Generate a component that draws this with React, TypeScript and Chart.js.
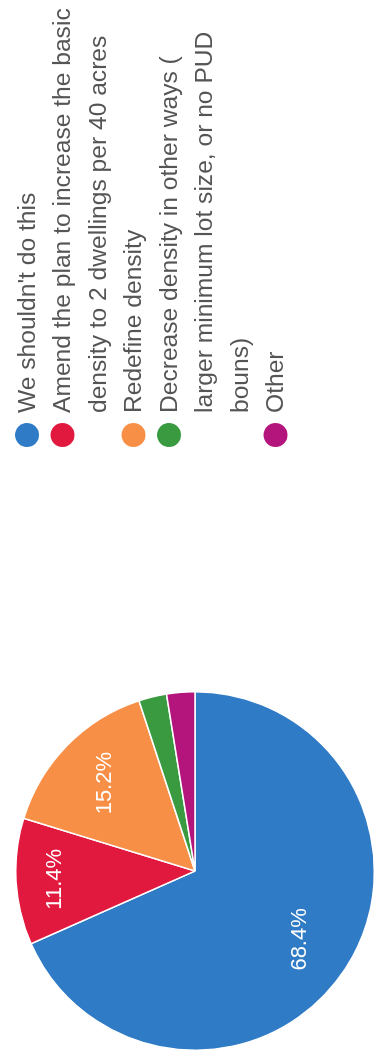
import React, { useEffect, useRef } from "react";
import { Chart, registerables } from "chart.js";

Chart.register(...registerables);

// ---- data ----
const categories: string[][] = [
  ["We shouldn't do this"],
  ["Amend the plan to increase the basic", "density to 2 dwellings per 40 acres"],
  ["Redefine density"],
  ["Decrease density in other ways (", "larger minimum lot size, or no PUD", "bouns)"],
  ["Other"],
];
const responses: number[] = [54, 9, 12, 2, 2];
const sliceColors: string[] = ["#2f7bc5", "#e2193f", "#f88f47", "#3a9a40", "#b3157d"];

// ---- layout (chart drawn in its natural landscape orientation, then turned) ----
const W = 1059;
const H = 377;
const FONT = '"Liberation Sans", Arial, Helvetica, sans-serif';

const pieLabels = {
  id: "pieLabels",
  afterDatasetsDraw(chart: any) {
    const ctx = chart.ctx;
    const meta = chart.getDatasetMeta(0);
    const data = chart.data.datasets[0].data as number[];
    const total = data.reduce((a, b) => a + b, 0);
    ctx.save();
    ctx.font = `22px ${FONT}`;
    ctx.fillStyle = "#ffffff";
    ctx.textAlign = "center";
    ctx.textBaseline = "middle";
    meta.data.forEach((arc: any, i: number) => {
      const pct = (data[i] / total) * 100;
      if (pct < 5) return;
      const p = arc.getProps(["x", "y", "startAngle", "endAngle", "outerRadius"], true);
      const span = p.endAngle - p.startAngle;
      const mid = (p.startAngle + p.endAngle) / 2;
      const f = span < 0.8 ? 0.78 : 0.7;
      ctx.fillText(
        pct.toFixed(1) + "%",
        p.x + Math.cos(mid) * p.outerRadius * f,
        p.y + Math.sin(mid) * p.outerRadius * f
      );
    });
    ctx.restore();
  },
};

const wrappedLegend = {
  id: "wrappedLegend",
  afterDraw(chart: any) {
    const ctx = chart.ctx;
    const labels = chart.data.labels as string[][];
    const colors = chart.data.datasets[0].backgroundColor as string[];
    const dotX = 624;
    const textX = 646;
    const top = 27;
    const lh = 35.5;
    const r = 12;
    ctx.save();
    ctx.font = `24.6px ${FONT}`;
    ctx.textAlign = "left";
    ctx.textBaseline = "middle";
    let line = 0;
    labels.forEach((lines, i) => {
      const y0 = top + line * lh;
      ctx.beginPath();
      ctx.arc(dotX, y0, r, 0, Math.PI * 2);
      ctx.fillStyle = colors[i];
      ctx.fill();
      ctx.fillStyle = "#555555";
      lines.forEach((t, k) => {
        ctx.fillText(t, textX, top + (line + k) * lh + 1);
      });
      line += lines.length;
    });
    ctx.restore();
  },
};

export default function App() {
  const ref = useRef<HTMLCanvasElement | null>(null);

  useEffect(() => {
    document.body.style.margin = "0";
    const canvas = ref.current;
    if (!canvas) return;
    const chart = new Chart(canvas, {
      type: "pie",
      data: {
        labels: categories,
        datasets: [
          {
            data: responses,
            backgroundColor: sliceColors,
            borderColor: "#ffffff",
            borderWidth: 1.5,
          },
        ],
      },
      options: {
        responsive: false,
        animation: false,
        rotation: 90,
        layout: { padding: { left: 8, right: 691, top: 15, bottom: 2 } },
        plugins: {
          legend: { display: false },
          tooltip: { enabled: false },
        },
      },
      plugins: [pieLabels, wrappedLegend],
    });
    return () => chart.destroy();
  }, []);

  return (
    <div
      style={{
        position: "relative",
        width: H,
        height: W,
        overflow: "hidden",
        background: "#ffffff",
      }}
    >
      <div
        style={{
          position: "absolute",
          left: 0,
          top: 0,
          width: W,
          height: H,
          transformOrigin: "0 0",
          transform: `translateY(${W}px) rotate(-90deg)`,
        }}
      >
        <canvas ref={ref} width={W} height={H} style={{ width: W, height: H, display: "block" }} />
      </div>
    </div>
  );
}
